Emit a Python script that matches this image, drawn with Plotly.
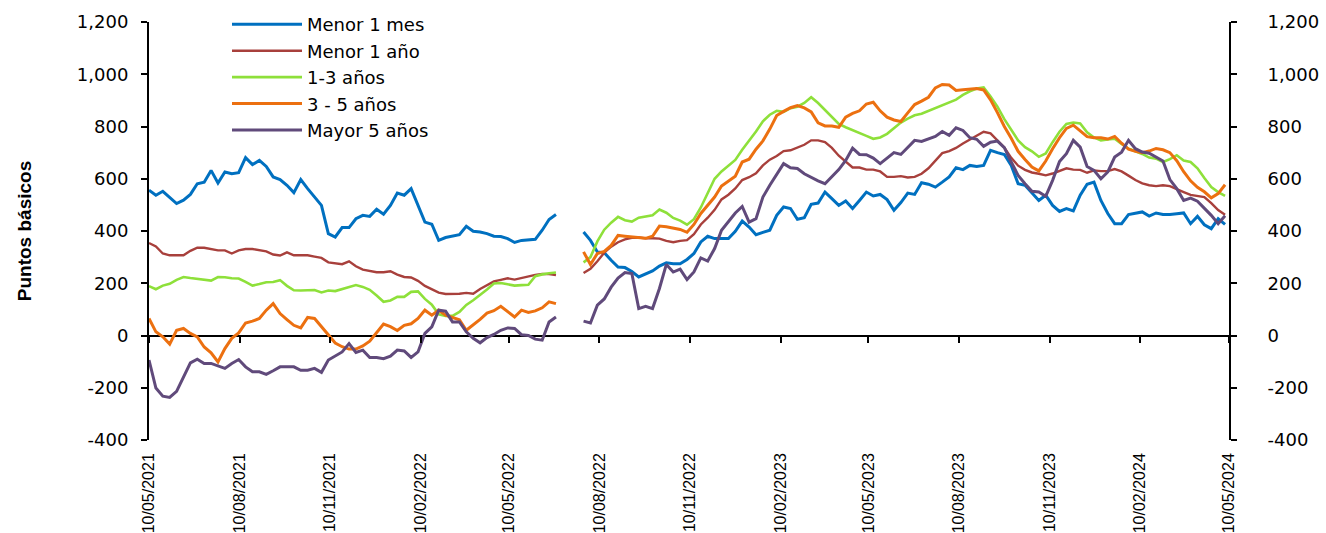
import pandas as pd
import plotly.graph_objects as go

# ---------------- data ----------------
dates = pd.date_range("2021-05-10", periods=157, freq="7D")
GAP = [None, None, None]

menor_1_mes = [
    556, 537, 552, 530, 505, 518, 540, 581, 587, 632,
    584, 626, 619, 623, 681, 654, 670, 647, 607, 597,
    575, 547, 597, 562, 530, 498, 390, 377, 413, 413,
    447, 460, 456, 483, 464, 498, 545, 537, 562, 498,
    434, 426, 364, 375, 381, 386, 418, 399, 396, 390,
    380, 379, 371, 356, 364, 366, 368, 403, 444, 463,
] + GAP + [
    396, 364, 320, 317, 288, 262, 260, 245, 224, 237,
    247, 266, 278, 275, 275, 291, 314, 358, 380, 371,
    371, 371, 399, 438, 415, 386, 395, 403, 460, 492,
    486, 445, 451, 502, 507, 549, 524, 498, 515, 486,
    517, 549, 534, 540, 520, 479, 509, 545, 540, 585,
    579, 568, 587, 607, 642, 635, 651, 647, 651, 709,
    700, 693, 651, 581, 575, 545, 517, 537, 498, 475,
    486, 477, 537, 579, 587, 517, 467, 428, 428, 463,
    469, 473, 457, 469, 463, 463, 466, 469, 428, 456,
    424, 409, 447, 425,
]

menor_1_anio = [
    354, 341, 314, 307, 307, 307, 324, 336, 336, 330,
    326, 326, 314, 326, 331, 331, 326, 322, 310, 306,
    318, 307, 307, 307, 302, 297, 280, 277, 273, 284,
    265, 252, 246, 242, 242, 246, 233, 224, 222, 209,
    190, 177, 164, 159, 159, 160, 163, 160, 178, 193,
    207, 213, 219, 214, 220, 227, 232, 236, 235, 231,
] + GAP + [
    239, 255, 284, 317, 340, 357, 368, 374, 375, 372,
    372, 371, 362, 357, 362, 365, 388, 425, 451, 481,
    521, 539, 563, 595, 606, 621, 651, 673, 687, 706,
    709, 720, 730, 747, 747, 740, 718, 688, 664, 643,
    643, 635, 635, 628, 607, 607, 610, 605, 607, 619,
    640, 670, 698, 706, 718, 735, 751, 765, 780, 774,
    748, 720, 680, 650, 634, 624, 619, 613, 620, 631,
    640, 635, 634, 623, 632, 629, 629, 637, 628, 612,
    595, 582, 575, 572, 575, 572, 562, 549, 538, 534,
    530, 507, 480, 462,
]

anios_1_3 = [
    189, 177, 191, 198, 213, 224, 220, 217, 213, 210,
    224, 223, 219, 218, 205, 191, 197, 204, 205, 212,
    190, 173, 172, 172, 174, 165, 172, 170, 178, 188,
    193, 186, 175, 153, 129, 134, 148, 148, 167, 169,
    140, 118, 81, 75, 75, 90, 117, 135, 154, 176,
    199, 201, 196, 191, 193, 194, 227, 234, 238, 241,
] + GAP + [
    280, 300, 360, 405, 432, 454, 441, 436, 451, 456,
    460, 482, 470, 450, 440, 424, 445, 490, 545, 600,
    628, 651, 672, 711, 745, 781, 820, 845, 860, 856,
    870, 876, 890, 912, 890, 862, 835, 810, 797, 787,
    777, 764, 753, 758, 772, 795, 815, 830, 843, 849,
    860, 871, 882, 892, 903, 921, 935, 945, 950, 915,
    876, 828, 785, 747, 721, 705, 684, 697, 740, 780,
    810, 815, 812, 778, 758, 747, 750, 753, 733, 715,
    705, 695, 681, 677, 664, 675, 690, 670, 664, 640,
    603, 568, 549, 534,
]

anios_3_5 = [
    65, 14, -5, -33, 20, 27, 8, -5, -44, -66,
    -101, -50, -11, 10, 48, 55, 65, 97, 122, 84,
    61, 39, 29, 69, 65, 33, 1, -29, -43, -52,
    -52, -40, -22, 10, 44, 34, 19, 39, 45, 65,
    97, 78, 97, 78, 70, 60, 20, 40, 62, 86,
    95, 112, 90, 71, 97, 88, 94, 106, 129, 122,
] + GAP + [
    320, 272, 314, 322, 345, 383, 380, 377, 375, 372,
    380, 419, 416, 411, 406, 395, 425, 467, 497, 530,
    572, 590, 610, 664, 675, 713, 745, 790, 842, 858,
    872, 880, 871, 856, 814, 802, 802, 797, 836, 850,
    860, 886, 893, 860, 836, 825, 819, 852, 884, 897,
    912, 948, 961, 959, 938, 941, 943, 945, 940, 902,
    853, 800, 755, 705, 674, 645, 630, 668, 715, 757,
    793, 805, 783, 761, 757, 757, 752, 762, 736, 713,
    705, 700, 706, 716, 711, 700, 669, 627, 592, 567,
    550, 527, 543, 577,
]

mayor_5_anios = [
    -94, -201, -232, -237, -214, -161, -105, -91, -107, -107,
    -117, -126, -107, -92, -120, -139, -139, -149, -135, -120,
    -120, -120, -133, -133, -126, -141, -94, -79, -63, -31,
    -65, -56, -84, -84, -89, -79, -56, -59, -84, -63,
    8, 33, 97, 93, 52, 52, 14, -11, -28, -8,
    4, 20, 29, 27, 3, 0, -14, -18, 52, 71,
] + GAP + [
    55, 48, 116, 140, 185, 220, 241, 237, 103, 112,
    103, 180, 272, 243, 254, 214, 243, 297, 285, 333,
    403, 438, 469, 494, 434, 447, 530, 575, 617, 658,
    642, 639, 619, 604, 592, 581, 607, 635, 670, 717,
    693, 692, 679, 658, 679, 700, 693, 721, 747, 743,
    753, 762, 781, 766, 795, 785, 757, 751, 724, 740,
    744, 719, 664, 613, 581, 552, 549, 533, 594, 666,
    696, 747, 721, 647, 632, 600, 626, 683, 702, 747,
    715, 702, 698, 683, 668, 597, 562, 517, 526, 514,
    488, 460, 428, 458,
]

series_names = ["Menor 1 mes", "Menor 1 año", "1-3 años", "3 - 5 años", "Mayor 5 años"]
series_values = [menor_1_mes, menor_1_anio, anios_1_3, anios_3_5, mayor_5_anios]

x_tick_dates = ["2021-05-10", "2021-08-10", "2021-11-10", "2022-02-10", "2022-05-10",
                "2022-08-10", "2022-11-10", "2023-02-10", "2023-05-10", "2023-08-10",
                "2023-11-10", "2024-02-10", "2024-05-10"]
y_tick_vals = [-400, -200, 0, 200, 400, 600, 800, 1000, 1200]
y_tick_text = ["-400", "-200", "0", "200", "400", "600", "800", "1,000", "1,200"]

# ---------------- styles ----------------
colors = ["#0070C0", "#A8403C", "#8EE03A", "#EC7010", "#604A7B"]
widths = [3, 2.4, 2.6, 3, 3]
# last series is bound to the secondary (right / zero-line) axes, which share the same ranges
axis_pairs = [("x", "y")] * 4 + [("x2", "y2")]

fig = go.Figure()
for name, vals, c, w, (xa, ya) in zip(series_names, series_values, colors, widths, axis_pairs):
    fig.add_trace(go.Scatter(x=dates, y=vals, mode="lines", name=name,
                             line=dict(color=c, width=w), connectgaps=False,
                             xaxis=xa, yaxis=ya))

xr = ["2021-05-10", "2024-05-10"]
yr = [-400, 1200]
tickfont_y = dict(family="DejaVu Sans", size=18, color="black")

fig.update_layout(
    width=1326, height=533, autosize=False,
    margin=dict(l=149, r=97, t=22, b=93, autoexpand=False),
    paper_bgcolor="white", plot_bgcolor="white",
    showlegend=True,
    legend=dict(x=(227 - 149) / 1080, xanchor="left", y=1.038, yanchor="top",
                font=dict(family="DejaVu Sans", size=18, color="black"),
                bgcolor="rgba(0,0,0,0)", itemwidth=70, tracegroupgap=0),
    xaxis=dict(type="date", range=xr, tickvals=x_tick_dates, tickformat="%d/%m/%Y",
               tickangle=-90, ticks="", showline=False, showgrid=False, zeroline=False,
               tickfont=dict(family="Liberation Sans", size=16, color="black"),
               ticklabelstandoff=9),
    xaxis2=dict(type="date", range=xr, overlaying="x", anchor="free",
                position=(0 - yr[0]) / (yr[1] - yr[0]),
                tickvals=x_tick_dates, ticks="outside", ticklen=6, tickwidth=2,
                tickcolor="black", showticklabels=False, showline=False,
                showgrid=False, zeroline=False, side="bottom"),
    yaxis=dict(range=yr, tickvals=y_tick_vals, ticktext=y_tick_text,
               ticks="outside", ticklen=6, tickwidth=2, tickcolor="black",
               showline=True, linewidth=2, linecolor="black", showgrid=False,
               zeroline=True, zerolinecolor="black", zerolinewidth=2,
               tickfont=tickfont_y, ticklabelstandoff=9,
               title=dict(text="<b>Puntos básicos</b>", standoff=40,
                          font=dict(family="Liberation Sans", size=19, color="black"))),
    yaxis2=dict(range=yr, overlaying="y", side="right", anchor="x2",
                tickvals=y_tick_vals, ticktext=y_tick_text, ticks="outside", ticklen=6,
                tickwidth=2, tickcolor="black", showline=True, linewidth=2,
                linecolor="black", showgrid=False, zeroline=False,
                tickfont=tickfont_y, ticklabelstandoff=27),
)

fig.write_html("out.html", config={"displayModeBar": False},
               post_script="document.body.style.margin='0';")
